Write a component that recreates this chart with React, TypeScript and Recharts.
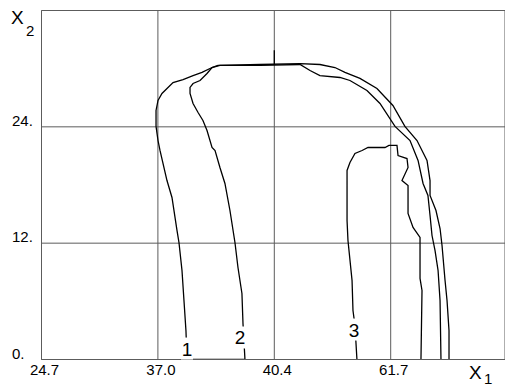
import React from "react";
import {
  LineChart,
  Line,
  XAxis,
  YAxis,
  CartesianGrid,
  ReferenceDot,
  ReferenceLine,
} from "recharts";

// x values are in grid units (the printed X1 tick labels are not evenly spaced)
const xTickValues = [0, 1, 2, 3];
const xTickLabels = ["24.7", "37.0", "40.4", "61.7"];
const yTickValues = [0, 12, 24, 36];
const yTickLabels = ["0.", "12.", "24.", ""];

const curve1X = [1.250, 1.241, 1.224, 1.207, 1.181, 1.164, 1.121, 1.078, 1.018, 1.001, 0.984, 0.984, 1.001, 1.035, 1.130, 1.216, 1.302, 1.379, 1.465, 1.533, 1.877, 2.221, 2.392, 2.521, 2.607, 2.736, 2.882, 3.019, 3.122, 3.226, 3.312, 3.338, 3.338, 3.389, 3.424, 3.441, 3.467, 3.484, 3.501, 3.501];
const curve1Y = [0, 2.99, 6.09, 9.18, 12.07, 13.31, 16.71, 18.46, 21.56, 22.59, 24.04, 25.69, 26.72, 27.44, 28.57, 28.88, 29.29, 29.61, 30.12, 30.33, 30.43, 30.53, 30.43, 30.12, 29.61, 28.99, 27.96, 26.20, 24.04, 22.59, 20.53, 18.46, 16.92, 15.37, 13.51, 11.76, 8.15, 6.09, 2.99, 0];

const curve2X = [1.207, 1.748, 1.731, 1.722, 1.688, 1.662, 1.619, 1.576, 1.533, 1.491, 1.465, 1.422, 1.387, 1.345, 1.302, 1.276, 1.276, 1.302, 1.362, 1.422, 1.465, 1.516, 1.877, 2.221, 2.307, 2.392, 2.564, 2.650, 2.796, 2.908, 3.037, 3.166, 3.235, 3.278, 3.320, 3.338, 3.355, 3.381, 3.407, 3.424, 3.432];
const curve2Y = [0, 0, 3.71, 6.81, 9.49, 12.07, 15.37, 18.16, 19.81, 21.56, 21.87, 23.62, 24.65, 25.48, 26.41, 27.44, 28.06, 28.47, 28.78, 29.50, 30.12, 30.33, 30.33, 30.43, 29.81, 29.29, 29.09, 28.78, 27.75, 26.41, 24.04, 22.59, 20.53, 18.16, 16.92, 14.85, 12.79, 11.24, 9.18, 6.09, 0];

const curve3X = [2.710, 2.693, 2.676, 2.668, 2.633, 2.625, 2.625, 2.650, 2.693, 2.754, 2.805, 2.951, 2.985, 3.054, 3.063, 3.140, 3.149, 3.097, 3.149, 3.149, 3.192, 3.252, 3.252, 3.269, 3.260];
const curve3Y = [0, 3.51, 5.05, 8.15, 12.28, 14.34, 19.50, 20.32, 21.25, 21.56, 21.87, 21.87, 22.08, 22.08, 21.04, 20.73, 19.81, 18.46, 17.95, 15.06, 13.62, 12.59, 8.36, 7.12, 0];

const curveLabels = ["1", "2", "3"];
const curveLabelX = [1.250, 1.705, 2.685];
const curveLabelY = [1.13, 2.27, 3.09];

const toPoints = (xs: number[], ys: number[]) => xs.map((x, i) => ({ x, y: ys[i] }));
const curves = [
  toPoints(curve1X, curve1Y),
  toPoints(curve2X, curve2Y),
  toPoints(curve3X, curve3Y),
];

const GRID = "#5c5c5c";
const FONT = "'Liberation Sans', Arial, sans-serif";

const XTick = (props: any) => {
  const i = xTickValues.indexOf(props.payload.value);
  return (
    <text x={props.x + 3} y={375} textAnchor="middle" fontSize={15} fontFamily={FONT} fill="#000">
      {xTickLabels[i]}
    </text>
  );
};

const YTick = (props: any) => {
  const i = yTickValues.indexOf(props.payload.value);
  return (
    <text x={12} y={props.y - 1} textAnchor="start" fontSize={15} fontFamily={FONT} fill="#000">
      {yTickLabels[i]}
    </text>
  );
};

const makeLabelShape = (txt: string) => (p: any) => (
  <g>
    <rect x={p.cx - 6} y={p.cy - 11} width={12} height={22} fill="#fff" />
    <text x={p.cx} y={p.cy + 7} textAnchor="middle" fontSize={19} fontFamily={FONT} fill="#000">
      {txt}
    </text>
  </g>
);

export default function App() {
  return (
    <div style={{ position: "absolute", left: 0, top: 0, width: 505, height: 388, background: "#fff" }}>
      <LineChart width={505} height={388} margin={{ top: 10.5, right: 0, bottom: 0, left: 0 }}>
        <CartesianGrid stroke={GRID} strokeWidth={1} />
        <XAxis
          type="number"
          dataKey="x"
          domain={[0, 3.982]}
          ticks={xTickValues}
          allowDataOverflow
          height={28.5}
          tickLine={false}
          axisLine={{ stroke: GRID }}
          tick={<XTick />}
        />
        <YAxis
          type="number"
          dataKey="y"
          domain={[0, 36]}
          ticks={yTickValues}
          allowDataOverflow
          width={41.5}
          tickLine={false}
          axisLine={{ stroke: GRID }}
          tick={<YTick />}
        />
        {curves.map((d, i) => (
          <Line
            key={i}
            data={d}
            dataKey="y"
            type="linear"
            stroke="#000"
            strokeWidth={1.3}
            dot={false}
            isAnimationActive={false}
          />
        ))}
        <ReferenceLine
          segment={[{ x: 2, y: 30.4 }, { x: 2, y: 31.9 }]}
          stroke="#000"
          strokeWidth={1.3}
        />
        {curveLabels.map((t, i) => (
          <ReferenceDot
            key={t}
            x={curveLabelX[i]}
            y={curveLabelY[i]}
            r={0}
            shape={makeLabelShape(t)}
          />
        ))}
      </LineChart>
      <div style={{ position: "absolute", left: 11, top: 8, fontFamily: FONT, fontSize: 19, color: "#000", lineHeight: "20px" }}>X</div>
      <div style={{ position: "absolute", left: 26, top: 22, fontFamily: FONT, fontSize: 15, color: "#000", lineHeight: "18px" }}>2</div>
      <div style={{ position: "absolute", left: 469, top: 363, fontFamily: FONT, fontSize: 19, color: "#000", lineHeight: "20px" }}>X</div>
      <div style={{ position: "absolute", left: 484, top: 370, fontFamily: FONT, fontSize: 15, color: "#000", lineHeight: "18px" }}>1</div>
    </div>
  );
}
